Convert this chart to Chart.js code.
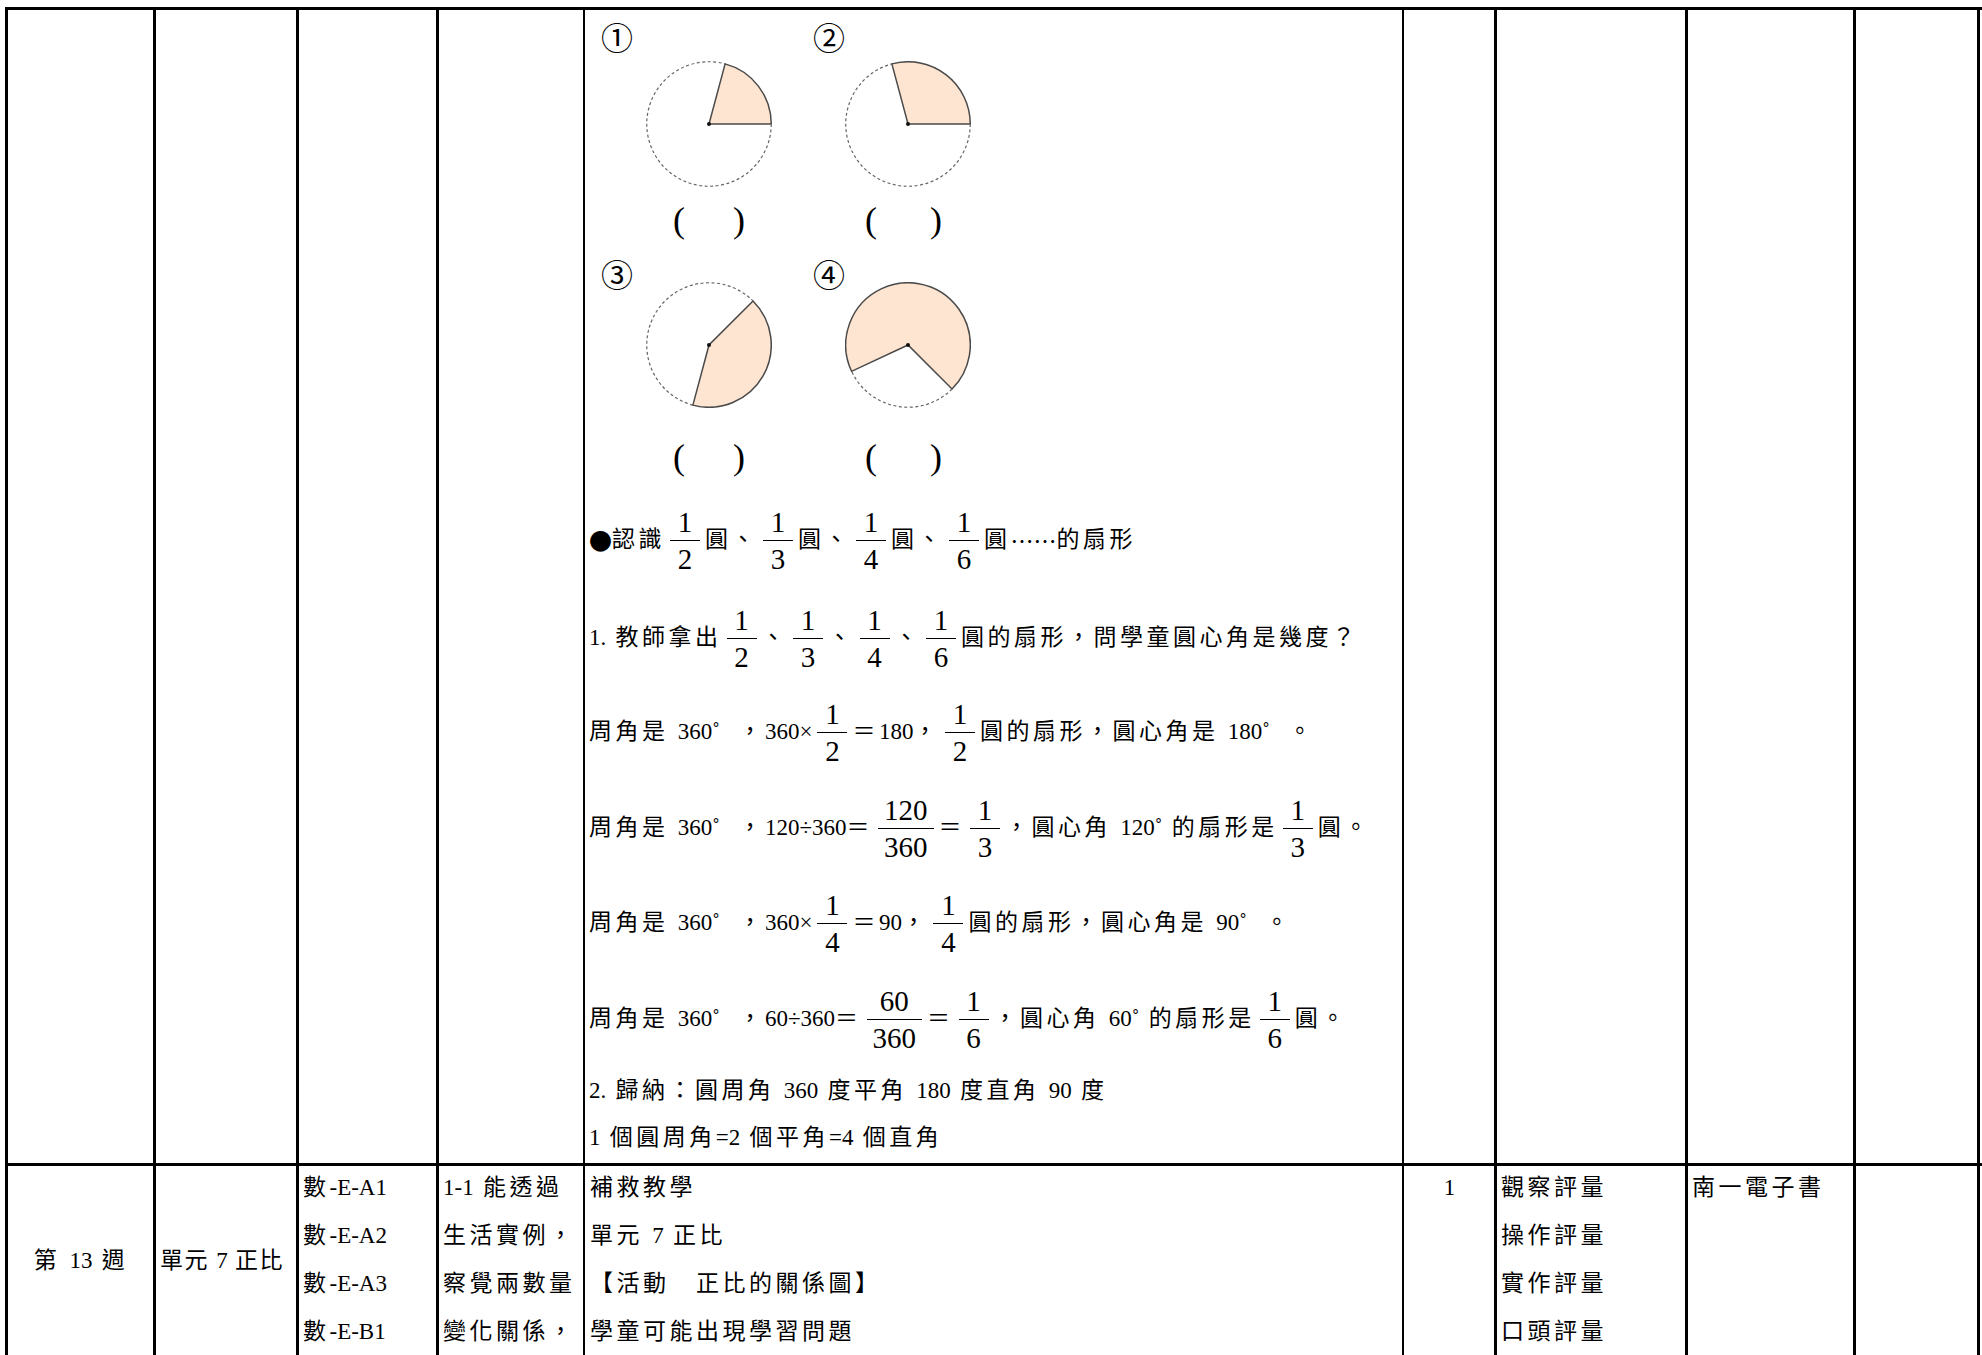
<!DOCTYPE html>
<html>
<head>
<meta charset="utf-8">
<script src="https://cdn.jsdelivr.net/npm/chart.js@4.4.0/dist/chart.umd.min.js"></script>
<style>
body { margin:0; background:#fff; width:1982px; height:1355px; overflow:hidden; position:relative;
  font-family:"Liberation Serif","Noto Sans CJK TC",serif; font-size:23px; color:#000; letter-spacing:3.5px; }
.ln { position:absolute; background:#000; }
.row { position:absolute; left:589px; height:0; display:flex; align-items:center; white-space:pre; line-height:24px; }
.fr { display:inline-flex; flex-direction:column; text-align:center; font-size:29px; line-height:36px; margin:0 5px; min-width:30px; letter-spacing:0; }
.fr i { font-style:normal; padding:0 6px; }
.fr b { font-weight:normal; border-top:1.5px solid #000; padding:0 6px; }
.en { letter-spacing:0; }
.k { font-family:"Noto Sans CJK TC"; letter-spacing:0; }
.cell { position:absolute; top:1164px; line-height:48px; white-space:pre; }
.num { position:absolute; font-family:"Noto Sans CJK TC"; font-size:32px; line-height:34px; letter-spacing:0; }
.par { position:absolute; font-size:36px; line-height:36px; letter-spacing:0; }
canvas { position:absolute; }
</style>
</head>
<body>

<!-- table grid -->
<div class="ln" style="left:5px;top:7px;width:1977px;height:3px"></div>
<div class="ln" style="left:5px;top:7px;width:3px;height:1348px"></div>
<div class="ln" style="left:153px;top:7px;width:3px;height:1348px"></div>
<div class="ln" style="left:296px;top:7px;width:3px;height:1348px"></div>
<div class="ln" style="left:436px;top:7px;width:3px;height:1348px"></div>
<div class="ln" style="left:583px;top:7px;width:2px;height:1348px"></div>
<div class="ln" style="left:1402px;top:7px;width:2px;height:1348px"></div>
<div class="ln" style="left:1494px;top:7px;width:3px;height:1348px"></div>
<div class="ln" style="left:1685px;top:7px;width:3px;height:1348px"></div>
<div class="ln" style="left:1853px;top:7px;width:3px;height:1348px"></div>
<div class="ln" style="left:1977px;top:7px;width:3px;height:1348px"></div>
<div class="ln" style="left:5px;top:1163px;width:1977px;height:3px"></div>

<!-- sector pictures -->
<div class="num" style="left:601px;top:19px">①</div>
<div class="num" style="left:813px;top:19px">②</div>
<div class="num" style="left:601px;top:256px">③</div>
<div class="num" style="left:813px;top:256px">④</div>
<canvas id="sector-1" width="126" height="126" style="left:646px;top:61px"></canvas>
<canvas id="sector-2" width="126" height="126" style="left:845px;top:61px"></canvas>
<canvas id="sector-3" width="126" height="126" style="left:646px;top:282px"></canvas>
<canvas id="sector-4" width="126" height="126" style="left:845px;top:282px"></canvas>
<div class="par" style="left:673px;top:202px">(</div>
<div class="par" style="left:733px;top:202px">)</div>
<div class="par" style="left:865px;top:202px">(</div>
<div class="par" style="left:930px;top:202px">)</div>
<div class="par" style="left:673px;top:439px">(</div>
<div class="par" style="left:733px;top:439px">)</div>
<div class="par" style="left:865px;top:439px">(</div>
<div class="par" style="left:930px;top:439px">)</div>

<!-- lesson text -->
<div class="row" style="top:540px"><span class="k">●</span>認識<span class="fr"><i>1</i><b>2</b></span>圓、<span class="fr"><i>1</i><b>3</b></span>圓、<span class="fr"><i>1</i><b>4</b></span>圓、<span class="fr"><i>1</i><b>6</b></span>圓<span class="k">……</span>的扇形</div>
<div class="row" style="top:638px">1. 教師拿出<span class="fr"><i>1</i><b>2</b></span>、<span class="fr"><i>1</i><b>3</b></span>、<span class="fr"><i>1</i><b>4</b></span>、<span class="fr"><i>1</i><b>6</b></span>圓的扇形，問學童圓心角是幾度？</div>
<div class="row" style="top:732px">周角是 360˚  ，360×<span class="fr"><i>1</i><b>2</b></span>＝180，<span class="fr"><i>1</i><b>2</b></span>圓的扇形，圓心角是 180˚  。</div>
<div class="row" style="top:828px">周角是 360˚  ，120÷360＝<span class="fr"><i>120</i><b>360</b></span>＝<span class="fr"><i>1</i><b>3</b></span>，圓心角 120˚ 的扇形是<span class="fr"><i>1</i><b>3</b></span>圓。</div>
<div class="row" style="top:923px">周角是 360˚  ，360×<span class="fr"><i>1</i><b>4</b></span>＝90，<span class="fr"><i>1</i><b>4</b></span>圓的扇形，圓心角是 90˚  。</div>
<div class="row" style="top:1019px">周角是 360˚  ，60÷360＝<span class="fr"><i>60</i><b>360</b></span>＝<span class="fr"><i>1</i><b>6</b></span>，圓心角 60˚ 的扇形是<span class="fr"><i>1</i><b>6</b></span>圓。</div>
<div class="row" style="top:1091px">2. 歸納：圓周角 360 度平角 180 度直角 90 度</div>
<div class="row" style="top:1138px">1 個圓周角=2 個平角=4 個直角</div>

<!-- week 13 row -->
<div class="cell" style="left:8px;width:146px;text-align:center;top:1237px"><div>第 13 週</div></div>
<div class="cell" style="left:160px;top:1237px;letter-spacing:1.5px"><div>單元 7 正比</div></div>
<div class="cell" style="left:303px"><div>數-E-A1</div><div>數-E-A2</div><div>數-E-A3</div><div>數-E-B1</div></div>
<div class="cell" style="left:443px"><div>1-1 能透過</div><div>生活實例，</div><div>察覺兩數量</div><div>變化關係，</div></div>
<div class="cell" style="left:590px"><div>補救教學</div><div>單元 7 正比</div><div>【活動　正比的關係圖】</div><div>學童可能出現學習問題</div></div>
<div class="cell" style="left:1404px;width:91px;text-align:center"><div>1</div></div>
<div class="cell" style="left:1501px"><div>觀察評量</div><div>操作評量</div><div>實作評量</div><div>口頭評量</div></div>
<div class="cell" style="left:1692px"><div>南一電子書</div></div>

<script>
// 圓心角 (degrees) of the shaded sector in each picture
const sectorNames = ['①', '②', '③', '④'];
const sectorAngles = [75, 105, 150, 250];
// where the shaded sector starts, clockwise from 12 o'clock
const sectorStart = [15, -15, 45, -115];

// latin runs keep their normal spacing, only the CJK text is spread out
function tidyLatin(el) {
  Array.from(el.childNodes).forEach(node => {
    if (node.nodeType !== 3) return;
    const parts = node.textContent.split(/([0-9A-Za-z.\-=×÷˚]+)/);
    if (parts.length < 2) return;
    const frag = document.createDocumentFragment();
    parts.forEach((p, j) => {
      if (!p) return;
      if (j % 2) {
        const s = document.createElement('span');
        s.className = 'en';
        s.textContent = p;
        frag.appendChild(s);
      } else {
        frag.appendChild(document.createTextNode(p));
      }
    });
    node.replaceWith(frag);
  });
}
document.querySelectorAll('.row, .cell > div').forEach(tidyLatin);

// the part of the circle that is not shaded: dashed outline + centre dot
const dashedRest = {
  id: 'dashedRest',
  afterDatasetsDraw(chart) {
    const rest = chart.getDatasetMeta(0).data[1];
    const ctx = chart.ctx;
    ctx.save();
    ctx.setLineDash([3, 2.5]);
    ctx.strokeStyle = '#666';
    ctx.lineWidth = 1.2;
    ctx.beginPath();
    ctx.arc(rest.x, rest.y, rest.outerRadius, rest.startAngle, rest.endAngle);
    ctx.stroke();
    ctx.setLineDash([]);
    ctx.fillStyle = '#111';
    ctx.beginPath();
    ctx.arc(rest.x, rest.y, 2, 0, Math.PI * 2);
    ctx.fill();
    ctx.restore();
  }
};

for (let i = 0; i < sectorAngles.length; i++) {
  const ctx = document.getElementById('sector-' + (i + 1)).getContext('2d');
  new Chart(ctx, {
    type: 'pie',
    data: {
      labels: [sectorNames[i], ''],
      datasets: [{
        data: [sectorAngles[i], 360 - sectorAngles[i]],
        backgroundColor: ['#fde5d1', 'rgba(0,0,0,0)'],
        borderColor: ['#4a4a4a', 'rgba(0,0,0,0)'],
        borderWidth: [1.5, 0],
        borderJoinStyle: 'miter'
      }]
    },
    options: {
      responsive: false,
      animation: false,
      events: [],
      rotation: sectorStart[i],
      layout: { padding: 0 },
      plugins: { legend: { display: false }, tooltip: { enabled: false } }
    },
    plugins: [dashedRest]
  });
}
</script>
</body>
</html>
